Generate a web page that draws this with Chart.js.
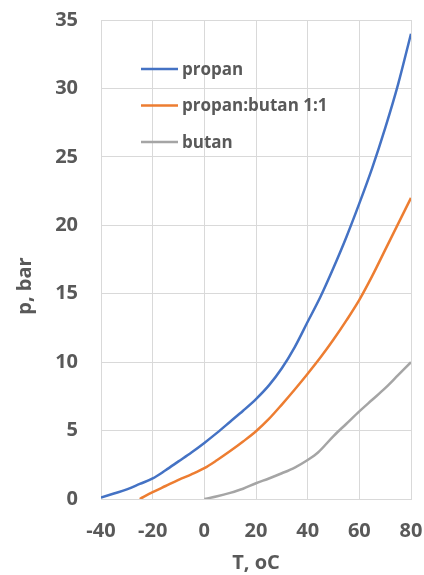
<!DOCTYPE html>
<html>
<head>
<meta charset="utf-8">
<script src="https://cdn.jsdelivr.net/npm/chart.js@4"></script>
<style>
  html, body { margin: 0; padding: 0; background: #fff; }
  #wrap { width: 424px; height: 575px; }
</style>
</head>
<body>
<div id="wrap"><canvas id="chart" width="424" height="575"></canvas></div>
<script>
// =============================
// DATA
// =============================
const seriesLabels = ["propan", "propan:butan 1:1", "butan"];

const propanT = [-40, -35, -30, -25, -20, -15, -10, -5, 0, 5, 10, 15, 20, 25, 30, 35, 40, 45, 50, 55, 60, 65, 70, 75, 80];
const propanP = [0.1, 0.4, 0.7, 1.1, 1.5, 2.1, 2.75, 3.4, 4.1, 4.85, 5.65, 6.45, 7.3, 8.3, 9.55, 11.1, 12.95, 14.8, 16.9, 19.15, 21.6, 24.2, 27.1, 30.3, 34.0];

const mixT = [-25, -20, -15, -10, -5, 0, 5, 10, 15, 20, 25, 30, 35, 40, 45, 50, 55, 60, 65, 70, 75, 80];
const mixP = [0, 0.5, 0.95, 1.4, 1.8, 2.25, 2.85, 3.5, 4.2, 4.95, 5.85, 6.9, 8.0, 9.15, 10.35, 11.65, 13.05, 14.55, 16.3, 18.2, 20.1, 22.0];

const butanT = [0, 5, 10, 15, 20, 25, 30, 35, 40, 44, 50, 55, 60, 65, 70, 75, 80];
const butanP = [0, 0.2, 0.45, 0.75, 1.15, 1.5, 1.88, 2.3, 2.85, 3.4, 4.6, 5.5, 6.4, 7.25, 8.1, 9.05, 10.0];

const xTicks = [-40, -20, 0, 20, 40, 60, 80];
const yTicks = [0, 5, 10, 15, 20, 25, 30, 35];

const xTitle = "T, oC";
const yTitle = "p, bar";

// =============================
// UTIL
// =============================
const toPoints = (xs, ys) => xs.map((x, i) => ({ x, y: ys[i] }));
const TEXT = "#595959";
const GRID = "#d9d9d9";
const FONT = "'Open Sans', 'DejaVu Sans', sans-serif";

// legenda di dalam area plot + judul sumbu y
const insideLegend = {
  id: "insideLegend",
  afterDraw(chart) {
    const { ctx, chartArea } = chart;
    ctx.save();
    ctx.font = `bold 17px ${FONT}`;
    ctx.textBaseline = "middle";
    chart.data.datasets.forEach((ds, i) => {
      const y = chartArea.top + 49 + i * 36.5;
      const x = chartArea.left + 40;
      ctx.strokeStyle = ds.borderColor;
      ctx.lineWidth = ds.borderWidth;
      ctx.beginPath();
      ctx.moveTo(x, y);
      ctx.lineTo(x + 37, y);
      ctx.stroke();
      ctx.fillStyle = TEXT;
      ctx.fillText(ds.label, x + 41, y + 1);
    });
    ctx.translate(25, 286);
    ctx.rotate(-Math.PI / 2);
    ctx.textAlign = "center";
    ctx.font = `bold 20px ${FONT}`;
    ctx.fillText(yTitle, 0, 0);
    ctx.restore();
  }
};

Chart.defaults.font.family = FONT;
Chart.defaults.color = TEXT;

new Chart(document.getElementById("chart").getContext("2d"), {
  type: "line",
  data: {
    datasets: [
      { label: seriesLabels[0], data: toPoints(propanT, propanP), borderColor: "#4472C4" },
      { label: seriesLabels[1], data: toPoints(mixT, mixP), borderColor: "#ED7D31" },
      { label: seriesLabels[2], data: toPoints(butanT, butanP), borderColor: "#A5A5A5" }
    ].map(ds => ({ ...ds, borderWidth: 2.5, pointRadius: 0, cubicInterpolationMode: "monotone", fill: false }))
  },
  options: {
    responsive: false,
    animation: false,
    layout: { padding: { top: 20, right: 13, left: 0, bottom: 0 } },
    plugins: { legend: { display: false }, tooltip: { enabled: false } },
    scales: {
      x: {
        type: "linear",
        min: xTicks[0],
        max: xTicks[xTicks.length - 1],
        afterBuildTicks: (s) => { s.ticks = xTicks.map(v => ({ value: v })); },
        afterFit: (s) => { s.height = 76; s.paddingLeft = 0; s.paddingRight = 0; },
        grid: { color: GRID, lineWidth: 1, drawTicks: false },
        border: { color: GRID },
        ticks: { font: { size: 20, weight: "bold" }, padding: 20, color: TEXT },
        title: { display: true, text: xTitle, font: { size: 20, weight: "bold" }, color: TEXT, padding: { top: 0, bottom: 0 } }
      },
      y: {
        min: yTicks[0],
        max: yTicks[yTicks.length - 1],
        afterBuildTicks: (s) => { s.ticks = yTicks.map(v => ({ value: v })); },
        afterFit: (s) => { s.width = 101; s.paddingTop = 0; s.paddingBottom = 0; },
        grid: { color: GRID, lineWidth: 1, drawTicks: false },
        border: { color: GRID },
        ticks: { font: { size: 20, weight: "bold" }, padding: 23, color: TEXT }
      }
    }
  },
  plugins: [insideLegend]
});
</script>
</body>
</html>
